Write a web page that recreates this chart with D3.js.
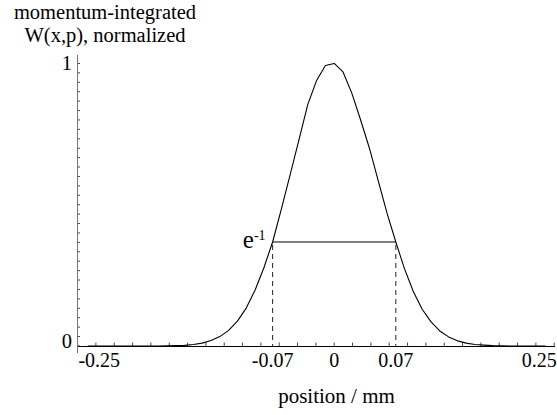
<!DOCTYPE html>
<html>
<head>
<meta charset="utf-8">
<script src="https://cdn.jsdelivr.net/npm/d3@7"></script>
<style>
  html, body { margin: 0; padding: 0; background: #fff; }
  svg { display: block; }
</style>
</head>
<body>
<script>
// Momentum-integrated Wigner function W(x,p), normalized to its peak
const positions = [
  -0.28, -0.27, -0.26, -0.25, -0.24, -0.23, -0.22, -0.21, -0.20, -0.19,
  -0.18, -0.17, -0.16, -0.15, -0.14, -0.13, -0.12, -0.11, -0.10, -0.09,
  -0.08, -0.07, -0.06, -0.05, -0.04, -0.03, -0.02, -0.01, 0.00, 0.01,
  0.02, 0.03, 0.04, 0.05, 0.06, 0.07, 0.08, 0.09, 0.10, 0.11,
  0.12, 0.13, 0.14, 0.15, 0.16, 0.17, 0.18, 0.19, 0.20, 0.21,
  0.22, 0.23, 0.24
];
const density = [
  0, 0, 0, 0, 0, 0, 0, 0, 0, 0.0005,
  0.001, 0.002, 0.005, 0.010, 0.019, 0.033, 0.055, 0.088, 0.134, 0.197,
  0.276, 0.368, 0.485, 0.607, 0.730, 0.855, 0.940, 0.993, 1.000, 0.970,
  0.895, 0.800, 0.700, 0.585, 0.470, 0.368, 0.272, 0.192, 0.130, 0.085,
  0.053, 0.032, 0.018, 0.010, 0.005, 0.003, 0.001, 0.0005, 0, 0,
  0, 0, 0
];
const xTickValues = [-0.25, -0.07, 0, 0.07, 0.25];
const xTickLabels = ["-0.25", "-0.07", "0", "0.07", "0.25"];
const yTickValues = [0, 1];
const yTickLabels = ["0", "1"];
const levelValue = 0.368;   // e^-1 level
const halfWidth = 0.07;     // half width at the e^-1 level
const titleLines = ["momentum-integrated", "W(x,p), normalized"];
const xTitle = "position / mm";

const W = 557, H = 415;
const FONT = "'Liberation Serif', 'Times New Roman', Tinos, 'DejaVu Serif', serif";
const svg = d3.select("body").append("svg")
  .attr("width", W).attr("height", H)
  .attr("font-family", FONT);
svg.append("rect").attr("width", W).attr("height", H).attr("fill", "#fff");

const x = d3.scaleLinear().domain([-0.2923, 0.2509]).range([77, 555]);
const y = d3.scaleLinear().domain([-0.025, 1.03]).range([353, 55]);

// minor ticks
const xMinorStep = 0.25 / 12;
const xMinor = d3.range(-14, 13).map(k => k * xMinorStep);
const yMinor = d3.range(0, 31).map(k => k / 30);

const g = svg.append("g");

// x axis
g.append("line")
  .attr("x1", x.range()[0]).attr("x2", x.range()[1])
  .attr("y1", Math.round(y(0)) + 0.5).attr("y2", Math.round(y(0)) + 0.5)
  .attr("stroke", "#000").attr("stroke-width", 1);
g.selectAll(".xminor").data(xMinor).enter().append("line")
  .attr("x1", d => x(d)).attr("x2", d => x(d))
  .attr("y1", Math.round(y(0))).attr("y2", Math.round(y(0)) - 3.5)
  .attr("stroke", "#333").attr("stroke-width", 0.9);

// y axis
g.append("line")
  .attr("x1", x.range()[0] + 0.5).attr("x2", x.range()[0] + 0.5)
  .attr("y1", y.range()[1]).attr("y2", y.range()[0])
  .attr("stroke", "#777").attr("stroke-width", 1);
g.selectAll(".yminor").data(yMinor).enter().append("line")
  .attr("x1", x.range()[0] + 1).attr("x2", x.range()[0] + 3)
  .attr("y1", d => y(d)).attr("y2", d => y(d))
  .attr("stroke", "#333").attr("stroke-width", 0.9);

// x tick labels (outermost ones pulled inward to stay on the page)
g.selectAll(".xlab").data(xTickValues).enter().append("text")
  .attr("x", d => Math.abs(d) >= 0.25 ? x(d) - 15 : x(d))
  .attr("y", 366.5)
  .attr("text-anchor", "middle")
  .attr("font-size", 20)
  .attr("fill", "#000")
  .text((d, i) => xTickLabels[i]);

// y tick labels
g.selectAll(".ylab").data(yTickValues).enter().append("text")
  .attr("x", 72)
  .attr("y", d => d === 0 ? y(d) + 2.5 : y(d) + 6.7)
  .attr("text-anchor", "end")
  .attr("font-size", 20.5)
  .attr("fill", "#000")
  .text((d, i) => yTickLabels[i]);

// e^-1 level marks
g.append("line")
  .attr("x1", x(-halfWidth)).attr("x2", x(halfWidth))
  .attr("y1", y(levelValue)).attr("y2", y(levelValue))
  .attr("stroke", "#000").attr("stroke-width", 1);
g.selectAll(".drop").data([-halfWidth, halfWidth]).enter().append("line")
  .attr("x1", d => x(d)).attr("x2", d => x(d))
  .attr("y1", y(levelValue) + 3).attr("y2", y(0))
  .attr("stroke", "#222").attr("stroke-width", 1)
  .attr("stroke-dasharray", "5,4");

const lvl = g.append("text")
  .attr("x", x(-halfWidth) - 7)
  .attr("y", y(levelValue) + 6.5)
  .attr("text-anchor", "end")
  .attr("fill", "#000");
lvl.append("tspan").attr("font-size", 25).text("e");
lvl.append("tspan").attr("font-size", 14).attr("dy", -8).text("-1");

// curve
const line = d3.line()
  .x((d, i) => x(positions[i]))
  .y(d => y(d));
g.append("path")
  .datum(density)
  .attr("d", line)
  .attr("fill", "none")
  .attr("stroke", "#000")
  .attr("stroke-width", 1.1)
  .attr("stroke-linejoin", "round");

// titles
svg.selectAll(".title").data(titleLines).enter().append("text")
  .attr("x", 105)
  .attr("y", (d, i) => 18.5 + i * 23.5)
  .attr("text-anchor", "middle")
  .attr("font-size", 20.5)
  .attr("fill", "#000")
  .text(d => d);

svg.append("text")
  .attr("x", 336.5).attr("y", 403)
  .attr("text-anchor", "middle")
  .attr("font-size", 21)
  .attr("fill", "#000")
  .text(xTitle);
</script>
</body>
</html>
